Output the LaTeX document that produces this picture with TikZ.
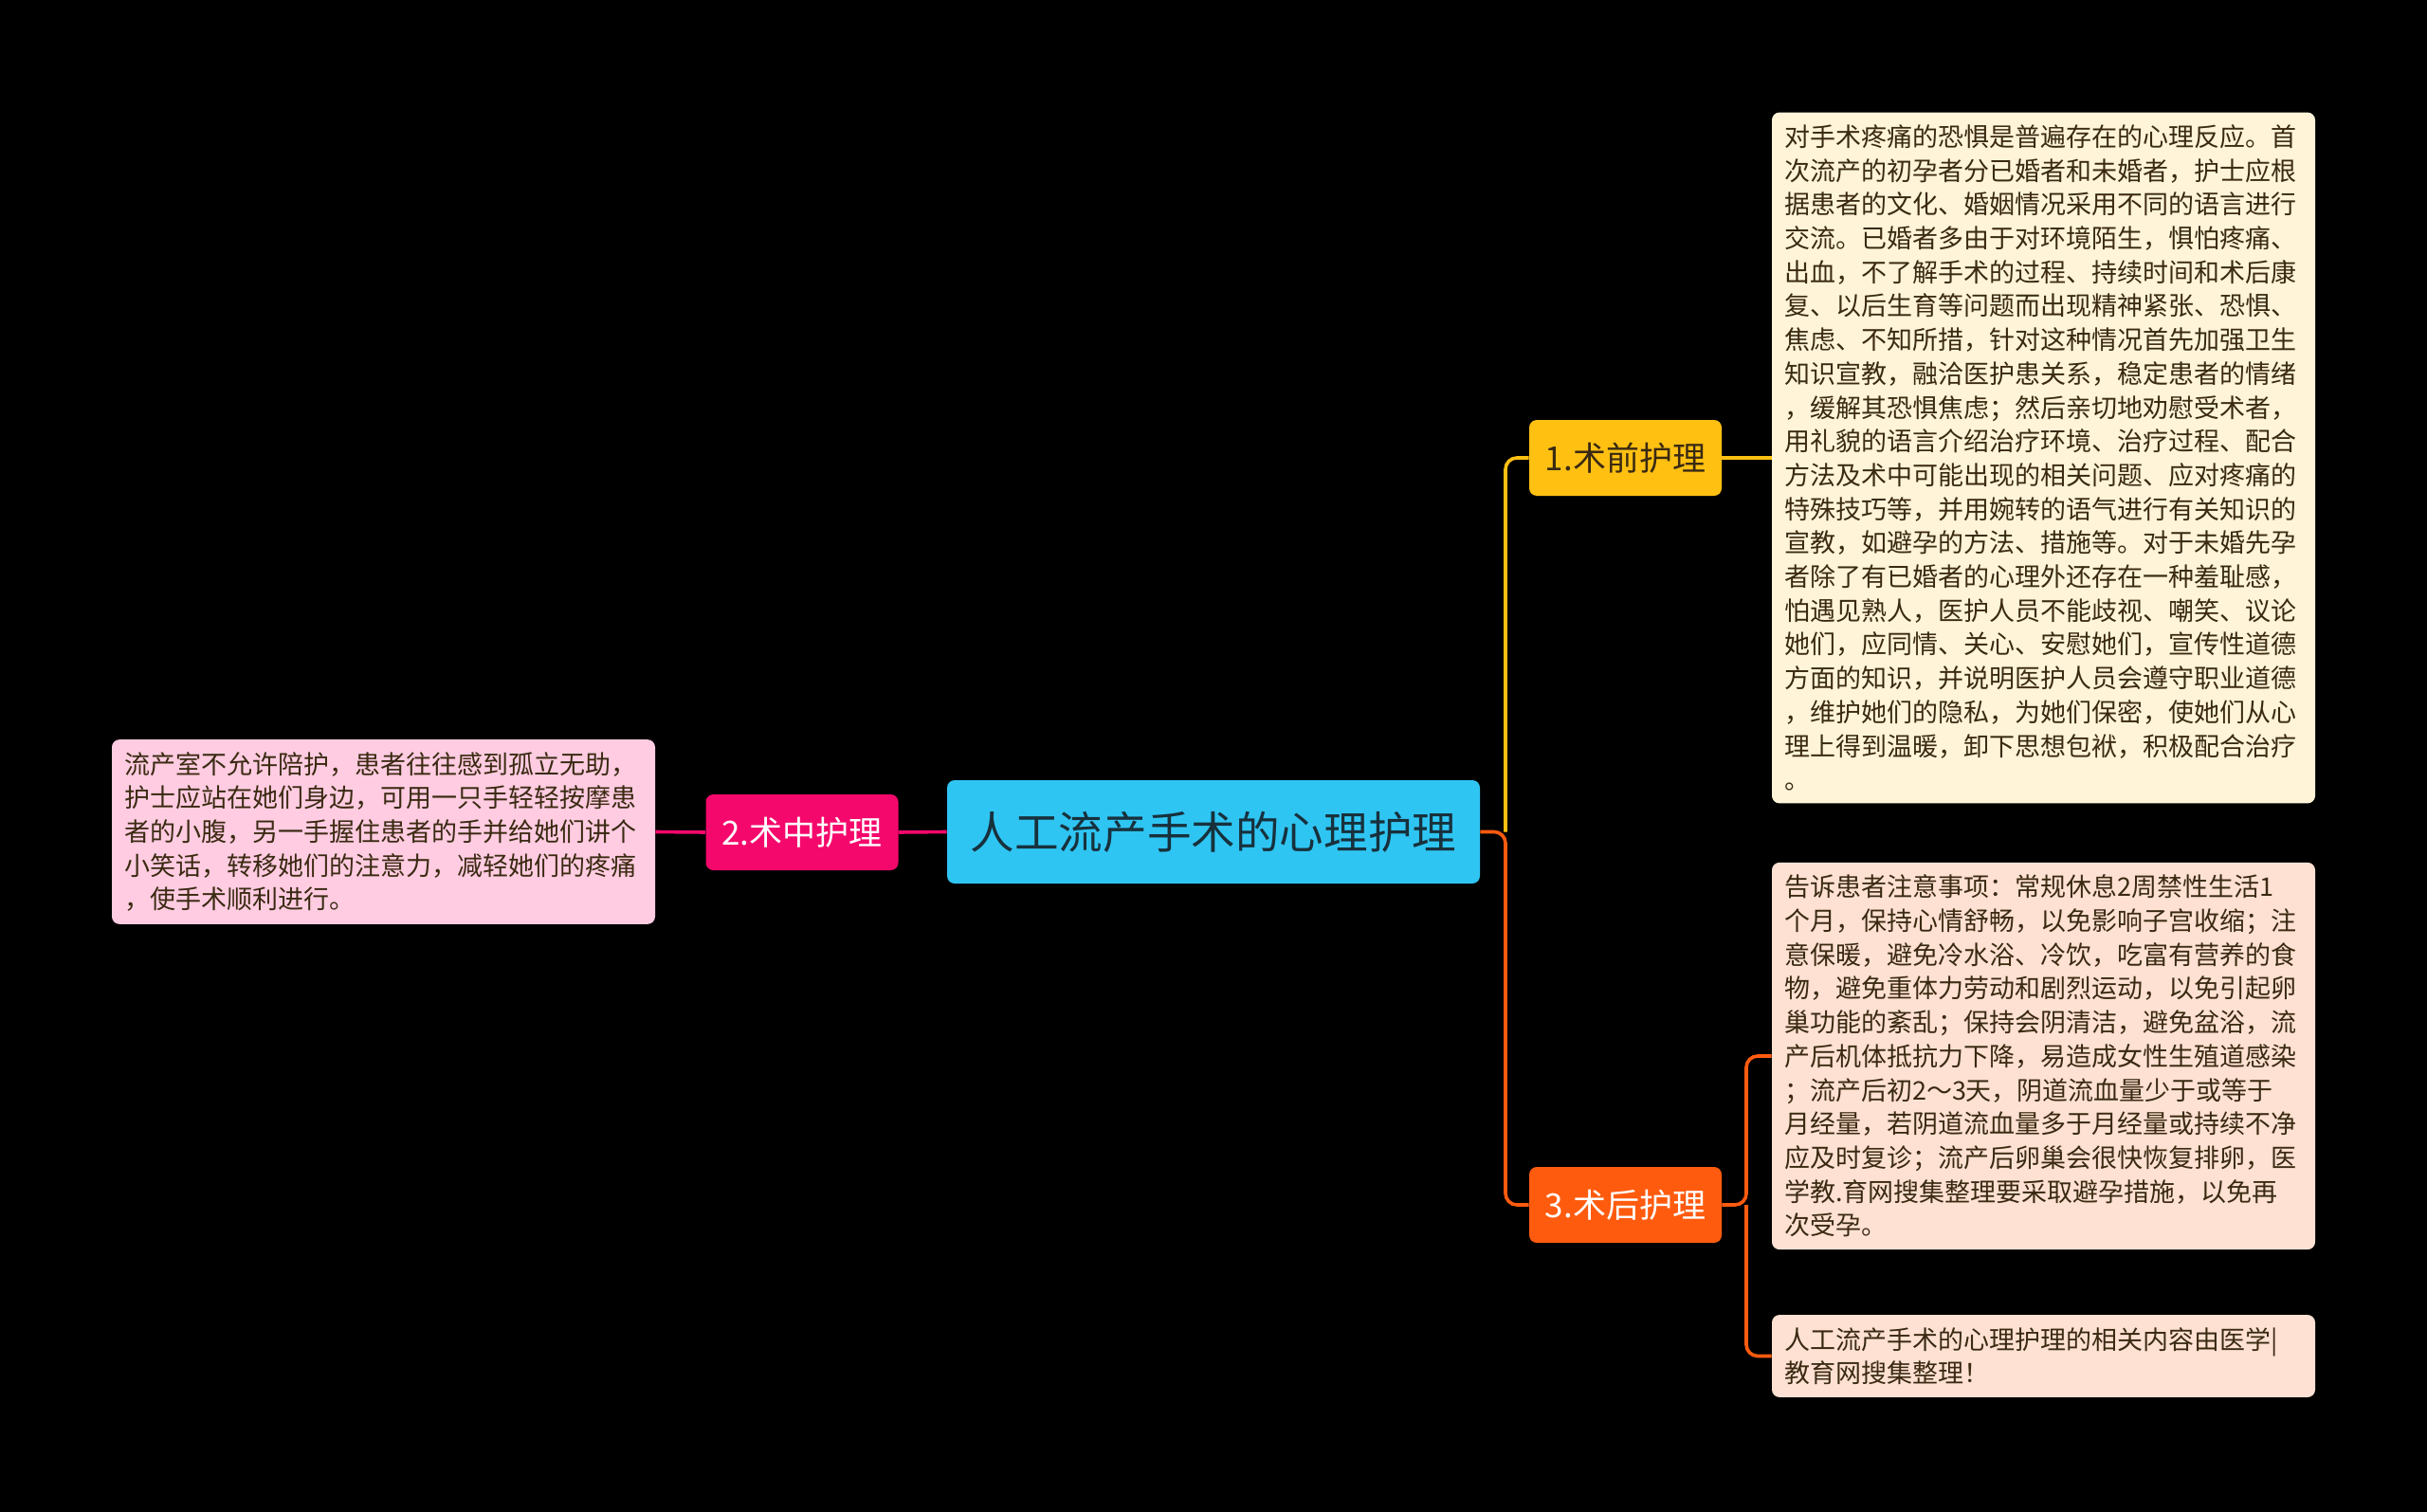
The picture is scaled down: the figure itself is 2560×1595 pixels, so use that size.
\documentclass[tikz,border=0pt]{standalone}
\usepackage{fontspec}
\setmainfont{Noto Sans CJK SC}
\definecolor{fond}{HTML}{000000}
\definecolor{bleuRacine}{HTML}{2FC5F3}
\definecolor{texteRacine}{HTML}{17313C}
\definecolor{rose}{HTML}{F5086C}
\definecolor{roseClair}{HTML}{FFCCE1}
\definecolor{jaune}{HTML}{FFC012}
\definecolor{jauneClair}{HTML}{FFF4D8}
\definecolor{orange}{HTML}{FF5B0F}
\definecolor{orangeClair}{HTML}{FFE1D3}
\definecolor{texteFonce}{HTML}{3A2A12}
\begin{document}
\begin{tikzpicture}[x=0.5pt,y=-0.5pt]
% Styles
\tikzstyle{racine}=[fill=bleuRacine,text=texteRacine,rounded corners=4pt,minimum width=281pt,minimum height=54.5pt,inner sep=0pt,font=\fontsize{23.3}{28}\selectfont]
\tikzstyle{branche}=[rounded corners=4pt,minimum width=101.5pt,minimum height=40pt,inner sep=0pt,font=\fontsize{17.5}{21}\selectfont]
\tikzstyle{feuille}=[rounded corners=4pt,text width=273.5pt,inner sep=6.5pt,align=left,text=texteFonce,font=\fontsize{13.5}{17.85}\selectfont]
\tikzstyle{lien}=[line width=1.8pt,rounded corners=6pt]
% Dimensions
\def\ColonneGauche{404.5}
\def\ColonneMilieu{846}
\def\ColonneBranche{1714.5}
\def\ColonneFeuille{2155.5}
% Fond
\fill[fond] (0,0) rectangle (2560,1595);
\useasboundingbox (0,0) rectangle (2560,1595);
% Noeuds
\node[racine] (R) at (1280,877.5) {人工流产手术的心理护理};
\node[branche,fill=jaune,text=texteFonce] (Ra) at (\ColonneBranche,483) {1.术前护理};
\node[branche,fill=rose,text=white] (Rb) at (\ColonneMilieu,878) {2.术中护理};
\node[branche,fill=orange,text=white] (Rc) at (\ColonneBranche,1271) {3.术后护理};
\node[feuille,fill=jauneClair] (Raa) at (\ColonneFeuille,483) {对手术疼痛的恐惧是普遍存在的心理反应。首\\
次流产的初孕者分已婚者和未婚者，护士应根\\
据患者的文化、婚姻情况采用不同的语言进行\\
交流。已婚者多由于对环境陌生，惧怕疼痛、\\
出血，不了解手术的过程、持续时间和术后康\\
复、以后生育等问题而出现精神紧张、恐惧、\\
焦虑、不知所措，针对这种情况首先加强卫生\\
知识宣教，融洽医护患关系，稳定患者的情绪\\
，缓解其恐惧焦虑；然后亲切地劝慰受术者，\\
用礼貌的语言介绍治疗环境、治疗过程、配合\\
方法及术中可能出现的相关问题、应对疼痛的\\
特殊技巧等，并用婉转的语气进行有关知识的\\
宣教，如避孕的方法、措施等。对于未婚先孕\\
者除了有已婚者的心理外还存在一种羞耻感，\\
怕遇见熟人，医护人员不能歧视、嘲笑、议论\\
她们，应同情、关心、安慰她们，宣传性道德\\
方面的知识，并说明医护人员会遵守职业道德\\
，维护她们的隐私，为她们保密，使她们从心\\
理上得到温暖，卸下思想包袱，积极配合治疗\\
。};
\node[feuille,fill=roseClair] (Rba) at (\ColonneGauche,877.5) {流产室不允许陪护，患者往往感到孤立无助，\\
护士应站在她们身边，可用一只手轻轻按摩患\\
者的小腹，另一手握住患者的手并给她们讲个\\
小笑话，转移她们的注意力，减轻她们的疼痛\\
，使手术顺利进行。};
\node[feuille,fill=orangeClair] (Rca) at (\ColonneFeuille,1114) {告诉患者注意事项：常规休息2周禁性生活1\\
个月，保持心情舒畅，以免影响子宫收缩；注\\
意保暖，避免冷水浴、冷饮，吃富有营养的食\\
物，避免重体力劳动和剧烈运动，以免引起卵\\
巢功能的紊乱；保持会阴清洁，避免盆浴，流\\
产后机体抵抗力下降，易造成女性生殖道感染\\
；流产后初2～3天，阴道流血量少于或等于\\
月经量，若阴道流血量多于月经量或持续不净\\
应及时复诊；流产后卵巢会很快恢复排卵，医\\
学教.育网搜集整理要采取避孕措施，以免再\\
次受孕。};
\node[feuille,fill=orangeClair] (Rcb) at (\ColonneFeuille,1430.5) {人工流产手术的心理护理的相关内容由医学|\\
教育网搜集整理！};
\coordinate (J) at (1588,877.5);
\coordinate (Jc) at (1842,1271);
% Arcs
\draw[lien,jaune] (J) |- (Ra.west);
\draw[lien,orange] (R.east) -- (J) |- (Rc.west);
\draw[lien,jaune] (Ra.east) -- (Raa.west);
\draw[lien,rose] (R.west) -- (Rb.east);
\draw[lien,rose] (Rb.west) -- (Rba.east);
\draw[lien,orange] (Rc.east) -- (Jc) |- (Rca.west);
\draw[lien,orange] (Jc) |- (Rcb.west);
\end{tikzpicture}
\end{document}
